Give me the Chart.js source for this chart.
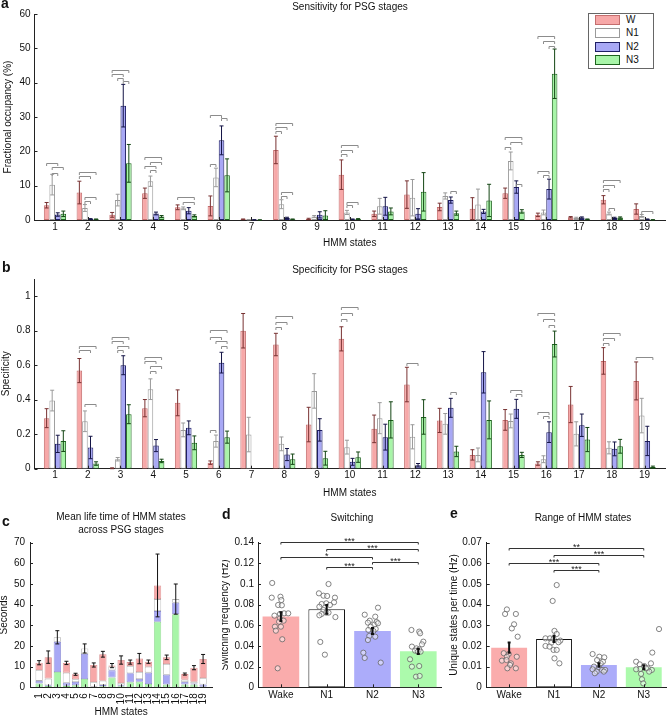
<!DOCTYPE html>
<html>
<head>
<meta charset="utf-8">
<title>HMM states vs PSG stages</title>
<script src="https://cdn.jsdelivr.net/npm/chart.js@4.4.1/dist/chart.umd.min.js"></script>
<style>
  body { margin: 0; background: #fff; }
  #fig { position: relative; width: 671px; height: 716px; overflow: hidden; font-family: "Liberation Sans", Arial, sans-serif; color: #111; }
  #fig canvas { position: absolute; }
  .t { position: absolute; font-size: 10px; line-height: 12px; white-space: nowrap; transform: translate(-50%, -50%); }
  .lt { position: absolute; font-size: 14px; font-weight: bold; line-height: 14px; }
  #legend { position: absolute; left: 588px; top: 13px; width: 64px; height: 54px; border: 1px solid #666; background: #fff; }
  .sw { position: absolute; left: 6px; width: 23px; height: 8px; border: 1px solid; }
  .lg { position: absolute; left: 37px; font-size: 10px; line-height: 12px; }
</style>
</head>
<body>
<div id="fig">
  <canvas id="ca" width="671" height="250" style="left:0;top:0"></canvas>
  <canvas id="cb" width="671" height="250" style="left:0;top:250px"></canvas>
  <canvas id="cc" width="222" height="220" style="left:0;top:500px"></canvas>
  <canvas id="cd" width="224" height="220" style="left:222px;top:500px"></canvas>
  <canvas id="ce" width="225" height="220" style="left:446px;top:500px"></canvas>

  <div class="lt" style="left:1px;top:-4px">a</div>
  <div class="lt" style="left:2px;top:260px">b</div>
  <div class="lt" style="left:2px;top:514px">c</div>
  <div class="lt" style="left:222px;top:507px">d</div>
  <div class="lt" style="left:450px;top:506px">e</div>

  <div class="t" style="left:350px;top:7px">Sensitivity for PSG stages</div>
  <div class="t" style="left:350px;top:270px">Specificity for PSG stages</div>
  <div class="t" style="left:121px;top:517px">Mean life time of HMM states</div>
  <div class="t" style="left:121px;top:530px">across PSG stages</div>
  <div class="t" style="left:352px;top:518px">Switching</div>
  <div class="t" style="left:583px;top:518px">Range of HMM states</div>

  <div id="legend"></div>
</div>

<script>
// ---- data ----
const states = [1, 2, 3, 4, 5, 6, 7, 8, 9, 10, 11, 12, 13, 14, 15, 16, 17, 18, 19];
const stageNames = ['W', 'N1', 'N2', 'N3'];
const stageLabels = ['Wake', 'N1', 'N2', 'N3'];

// a: sensitivity (fractional occupancy, %)
const sensW  = [4.3, 8.0, 1.5, 7.8, 3.7, 4.1, 0.2, 20.4, 0.3, 13.2, 1.8, 7.4, 3.8, 3.3, 7.8, 1.5, 0.8, 5.9, 3.2];
const sensN1 = [10.3, 3.5, 5.8, 11.3, 3.4, 12.4, 0.1, 4.6, 1.0, 2.2, 4.0, 6.5, 7.0, 4.5, 17.2, 2.2, 0.6, 1.9, 1.2];
const sensN2 = [1.6, 0.3, 33.3, 1.9, 2.7, 23.2, 0.05, 0.6, 1.5, 0.2, 4.0, 1.8, 5.8, 2.5, 9.6, 9.0, 0.7, 0.6, 0.2];
const sensN3 = [1.8, 0.2, 16.5, 1.0, 1.2, 13.0, 0.02, 0.2, 1.3, 0.3, 2.5, 8.2, 2.0, 5.7, 2.5, 42.6, 0.2, 0.7, 0.05];
const sensErrW  = [0.8, 3.3, 0.7, 1.5, 0.7, 2.9, 0.1, 4.0, 0.2, 4.3, 0.8, 4.0, 1.1, 3.2, 1.5, 0.5, 0.2, 1.2, 1.5];
const sensErrN1 = [3.0, 1.0, 1.7, 1.5, 0.4, 2.7, 0.05, 1.3, 0.3, 0.6, 2.3, 5.3, 0.9, 4.5, 2.6, 0.7, 0.2, 0.4, 0.4];
const sensErrN2 = [0.5, 0.1, 6.2, 0.4, 0.9, 4.2, 0.03, 0.2, 0.9, 0.1, 2.6, 1.5, 0.9, 0.6, 1.8, 2.9, 0.2, 0.2, 0.1];
const sensErrN3 = [0.8, 0.1, 5.5, 0.3, 0.3, 4.8, 0.02, 0.1, 1.4, 0.1, 1.0, 5.6, 0.6, 4.7, 0.5, 7.2, 0.1, 0.2, 0.05];
const sensTicks = [0, 10, 20, 30, 40, 50, 60];
// significance brackets: [state, stage i, stage j, height]
const sensBrackets = [
  [1, 0, 2, 16.7], [1, 1, 3, 15.5], [1, 1, 2, 13.8],
  [2, 0, 3, 14.0], [2, 0, 2, 12.9], [2, 1, 3, 6.8], [2, 1, 2, 5.5],
  [3, 0, 3, 43.8], [3, 0, 2, 42.5], [3, 1, 2, 41.3], [3, 2, 3, 40.4],
  [4, 0, 3, 18.3], [4, 1, 3, 16.8], [4, 0, 2, 15.7], [4, 1, 2, 14.6],
  [5, 0, 3, 6.6], [5, 1, 3, 5.3],
  [6, 0, 2, 30.6], [6, 2, 3, 29.6], [6, 0, 1, 16.2],
  [8, 0, 3, 28.3], [8, 0, 2, 27.0], [8, 0, 1, 25.8], [8, 1, 3, 8.2], [8, 1, 2, 7.0],
  [10, 0, 3, 21.7], [10, 0, 2, 20.3], [10, 0, 1, 19.1], [10, 1, 3, 5.3], [10, 1, 2, 4.3],
  [13, 2, 3, 8.5],
  [15, 0, 3, 24.2], [15, 1, 3, 22.7], [15, 0, 1, 21.4], [15, 2, 3, 10.6],
  [16, 0, 3, 53.6], [16, 1, 3, 52.2], [16, 2, 3, 50.7], [16, 0, 2, 14.3], [16, 1, 2, 13.0],
  [18, 0, 3, 11.6], [18, 0, 2, 10.3], [18, 0, 1, 9.0], [18, 1, 2, 3.4],
  [19, 1, 3, 2.7]
];

// b: specificity
const specW  = [0.293, 0.569, 0.0, 0.351, 0.382, 0.035, 0.80, 0.72, 0.256, 0.753, 0.231, 0.488, 0.28, 0.08, 0.283, 0.03, 0.372, 0.625, 0.509];
const specN1 = [0.395, 0.275, 0.055, 0.461, 0.225, 0.16, 0.198, 0.144, 0.451, 0.125, 0.293, 0.185, 0.26, 0.08, 0.277, 0.055, 0.202, 0.121, 0.308];
const specN2 = [0.144, 0.123, 0.6, 0.134, 0.237, 0.615, 0.0, 0.082, 0.225, 0.04, 0.183, 0.02, 0.353, 0.559, 0.347, 0.212, 0.252, 0.115, 0.161];
const specN3 = [0.16, 0.03, 0.316, 0.045, 0.15, 0.183, 0.0, 0.055, 0.061, 0.067, 0.283, 0.3, 0.1, 0.283, 0.08, 0.723, 0.169, 0.13, 0.01];
const specErrW  = [0.055, 0.07, 0.005, 0.05, 0.075, 0.01, 0.1, 0.065, 0.1, 0.07, 0.08, 0.1, 0.07, 0.03, 0.06, 0.01, 0.105, 0.077, 0.11];
const specErrN1 = [0.06, 0.06, 0.01, 0.06, 0.04, 0.035, 0.1, 0.04, 0.1, 0.04, 0.09, 0.07, 0.06, 0.04, 0.04, 0.02, 0.07, 0.035, 0.1];
const specErrN2 = [0.05, 0.065, 0.055, 0.035, 0.04, 0.06, 0.0, 0.035, 0.065, 0.02, 0.075, 0.01, 0.055, 0.12, 0.055, 0.06, 0.065, 0.04, 0.085];
const specErrN3 = [0.06, 0.01, 0.055, 0.01, 0.04, 0.035, 0.0, 0.03, 0.04, 0.03, 0.105, 0.1, 0.03, 0.11, 0.015, 0.075, 0.07, 0.04, 0.005];
const specTicks = [0, 0.2, 0.4, 0.6, 0.8, 1];
const specBrackets = [
  [2, 0, 3, 0.714], [2, 0, 2, 0.691], [2, 1, 3, 0.376],
  [3, 0, 3, 0.766], [3, 0, 2, 0.743], [3, 1, 3, 0.714], [3, 1, 2, 0.691],
  [4, 0, 3, 0.646], [4, 0, 2, 0.623], [4, 1, 3, 0.598], [4, 1, 2, 0.569],
  [6, 0, 3, 0.807], [6, 0, 2, 0.766], [6, 1, 3, 0.739], [6, 2, 3, 0.71], [6, 0, 1, 0.227],
  [8, 0, 3, 0.888], [8, 0, 2, 0.849], [8, 0, 1, 0.82],
  [10, 0, 3, 0.936], [10, 0, 2, 0.901], [10, 0, 1, 0.869],
  [12, 0, 2, 0.612],
  [13, 2, 3, 0.443],
  [15, 1, 3, 0.459], [15, 2, 3, 0.434],
  [16, 0, 3, 0.903], [16, 1, 3, 0.869], [16, 2, 3, 0.836], [16, 0, 2, 0.327], [16, 1, 2, 0.304],
  [18, 0, 3, 0.785], [18, 0, 2, 0.756], [18, 0, 1, 0.727],
  [19, 0, 3, 0.65]
];

// c: mean life time (s), stacked contribution of each stage
const lifeN3 = [1.9, 0.6, 7.4, 0.8, 1.0, 4.0, 0.2, 0.5, 4.7, 0.5, 2.4, 2.7, 1.6, 31.7, 1.3, 35.4, 1.3, 1.3, 0.3];
const lifeN2 = [1.2, 0.4, 14.6, 1.4, 1.6, 12.1, 0.1, 0.6, 3.5, 0.5, 4.4, 1.3, 5.5, 5.2, 4.8, 5.5, 1.3, 0.5, 1.0];
const lifeN1 = [5.3, 3.2, 2.2, 4.9, 1.3, 2.7, 2.3, 2.1, 1.8, 1.1, 3.5, 3.4, 2.9, 5.8, 5.2, 1.8, 1.1, 0.9, 3.2];
const lifeW  = [3.5, 10.4, 0.0, 4.7, 2.4, 0.0, 8.2, 12.8, 0.5, 11.1, 1.9, 6.5, 2.4, 6.6, 3.2, 0.0, 2.7, 6.8, 9.2];
const lifeErr = [1.0, 3.0, 3.2, 0.8, 0.5, 2.2, 1.0, 1.4, 1.0, 2.0, 1.0, 2.5, 0.8, 15.2, 1.1, 7.3, 0.5, 1.0, 2.2];
const lifeTicks = [0, 10, 20, 30, 40, 50, 60, 70];

// d: switching frequency (Hz)
const switchMean = [0.0685, 0.0755, 0.0545, 0.0348];
const switchErr = [0.0042, 0.0042, 0.003, 0.0025];
const switchTicks = [0, 0.02, 0.04, 0.06, 0.08, 0.1, 0.12, 0.14];
// subjects: [jitter, value]
const switchWake = [[-0.19, 0.101], [-0.2, 0.0868], [-0.01, 0.0877], [0.01, 0.0845], [-0.06, 0.0797], [0.02, 0.0794], [0.07, 0.0716], [0.16, 0.0716], [-0.02, 0.071], [-0.14, 0.0694], [-0.02, 0.0668], [0.06, 0.0645], [-0.04, 0.0635], [-0.13, 0.0587], [0, 0.0587], [-0.11, 0.0548], [0.03, 0.0465], [-0.07, 0.0184]];
const switchN1 = [[0.04, 0.1], [-0.17, 0.091], [-0.07, 0.0887], [0.01, 0.0884], [0.18, 0.0868], [0.16, 0.0823], [-0.01, 0.0813], [-0.11, 0.0806], [0.07, 0.0797], [-0.16, 0.078], [-0.07, 0.0748], [-0.01, 0.0723], [0.04, 0.0723], [-0.11, 0.071], [-0.16, 0.0697], [0.19, 0.068], [-0.14, 0.0439], [-0.04, 0.0316]];
const switchN2 = [[-0.17, 0.0703], [0.12, 0.0771], [0.06, 0.0684], [-0.06, 0.0645], [0.09, 0.0632], [-0.1, 0.0626], [0.04, 0.0606], [0.12, 0.062], [-0.04, 0.0587], [-0.09, 0.0555], [0.07, 0.0565], [0.02, 0.0545], [-0.07, 0.0497], [0.06, 0.049], [-0.1, 0.0458], [-0.2, 0.0335], [-0.17, 0.0284], [0.18, 0.0239]];
const switchN3 = [[-0.15, 0.0555], [0.02, 0.0539], [0.04, 0.0523], [0.11, 0.0442], [0.08, 0.0416], [-0.14, 0.0394], [-0.04, 0.0377], [0.02, 0.0368], [-0.07, 0.0355], [-0.01, 0.0345], [0.05, 0.0345], [-0.18, 0.0271], [0.02, 0.0206], [-0.14, 0.02], [-0.05, 0.0103], [0.03, 0.011]];
// comparisons: [stage i, stage j, height, label]
const switchSig = [[0, 3, 0.141, '***'], [1, 3, 0.1339, '***'], [0, 2, 0.1265, '*'], [2, 3, 0.1216, '***'], [1, 2, 0.116, '***']];

// e: unique states per time (Hz)
const rangeMean = [0.0192, 0.0234, 0.0108, 0.0097];
const rangeErr = [0.0025, 0.0015, 0.0008, 0.001];
const rangeTicks = [0, 0.01, 0.02, 0.03, 0.04, 0.05, 0.06, 0.07];
const rangeWake = [[-0.05, 0.0377], [-0.09, 0.0355], [0.15, 0.0355], [0.11, 0.0305], [0.06, 0.0285], [0.19, 0.0245], [-0.12, 0.0165], [-0.01, 0.0161], [-0.05, 0.0148], [0.17, 0.0148], [-0.16, 0.0129], [-0.06, 0.0132], [0.04, 0.0116], [0.02, 0.0108], [-0.04, 0.0092], [0.15, 0.0092]];
const rangeN1 = [[0.06, 0.0495], [-0.03, 0.0418], [0.01, 0.0273], [0.06, 0.0258], [-0.19, 0.0237], [-0.09, 0.0237], [-0.01, 0.0234], [0.14, 0.0226], [0.1, 0.0218], [-0.06, 0.0216], [-0.19, 0.02], [-0.1, 0.0197], [-0.01, 0.0181], [0.06, 0.0181], [0.01, 0.014], [0.12, 0.0116]];
const rangeN2 = [[-0.14, 0.0161], [0.01, 0.0148], [0.12, 0.0145], [-0.04, 0.0132], [0.09, 0.0124], [0.04, 0.0116], [-0.11, 0.01], [0, 0.0097], [-0.14, 0.0087], [0.07, 0.0084], [0.14, 0.0084], [-0.05, 0.0076], [0.11, 0.0076], [-0.09, 0.0068]];
const rangeN3 = [[0.34, 0.0282], [0.19, 0.0168], [-0.17, 0.0124], [-0.09, 0.0111], [0.16, 0.0116], [0.01, 0.0103], [0.09, 0.0092], [-0.08, 0.0089], [-0.17, 0.0087], [0.18, 0.0084], [0.12, 0.0076], [-0.06, 0.0065], [0.05, 0.0092], [-0.04, 0.0039], [-0.01, 0.0019]];
const rangeSig = [[0, 3, 0.0676, '**'], [1, 3, 0.0639, '***'], [0, 2, 0.06, '***'], [1, 2, 0.0566, '***']];

// ---- styling ----
const fills = ['rgb(247,168,168)', '#ffffff', 'rgb(168,168,245)', 'rgb(168,245,168)'];
const edges = ['rgb(196,110,110)', '#9a9a9a', 'rgb(30,30,100)', 'rgb(30,100,30)'];
const errCols = ['rgb(120,50,50)', '#9a9a9a', 'rgb(20,20,70)', 'rgb(20,70,20)'];
const softFills = ['rgb(250,172,172)', '#ffffff', 'rgb(172,172,250)', 'rgb(172,250,172)'];
const FONT = '"Liberation Sans", Arial, sans-serif';

Chart.defaults.font.family = FONT;
Chart.defaults.font.size = 10;
Chart.defaults.color = '#111';
Chart.defaults.animation = false;
Chart.defaults.plugins.legend.display = false;
Chart.defaults.plugins.tooltip.enabled = false;

// legend of panel a
const legend = document.getElementById('legend');
stageNames.forEach((n, i) => {
  const top = 1 + i * 13.3;
  legend.innerHTML += `<div class="sw" style="top:${top}px;background:${fills[i]};border-color:${edges[i]}"></div>` +
    `<div class="lg" style="top:${top - 1}px">${n}</div>`;
});

const yLabel = v => String(+Number(v).toFixed(3));

// error bars for any dataset that carries an errors array
const errorBars = {
  id: 'errorBars',
  afterDatasetsDraw(chart) {
    const ctx = chart.ctx, y = chart.scales.y;
    chart.data.datasets.forEach((ds, di) => {
      if (!ds.errors) return;
      const meta = chart.getDatasetMeta(di);
      meta.data.forEach((el, k) => {
        const e = ds.errors[k];
        if (!e) return;
        const v = y.getValueForPixel(el.y);
        const top = y.getPixelForValue(v + e);
        const bot = y.getPixelForValue(Math.max(v - e, 0));
        const c = ds.capWidth || 2;
        ctx.save();
        ctx.strokeStyle = ds.errorColor || '#111';
        ctx.lineWidth = ds.errorWidth || 1;
        ctx.beginPath();
        ctx.moveTo(el.x, top); ctx.lineTo(el.x, bot);
        ctx.moveTo(el.x - c, top); ctx.lineTo(el.x + c, top);
        ctx.moveTo(el.x - c, bot); ctx.lineTo(el.x + c, bot);
        ctx.stroke();
        ctx.restore();
      });
    });
  }
};

// small inward tick marks, as in the original figure
const inTicks = {
  id: 'inTicks',
  afterDraw(chart) {
    const {ctx, chartArea: a} = chart;
    const x = chart.scales.x, y = chart.scales.y;
    ctx.save();
    ctx.strokeStyle = '#222';
    ctx.lineWidth = 1;
    ctx.beginPath();
    x.ticks.forEach(t => {
      const px = Math.round(x.getPixelForValue(t.value)) + 0.5;
      ctx.moveTo(px, a.bottom); ctx.lineTo(px, a.bottom - 3);
    });
    y.ticks.forEach(t => {
      const py = Math.round(y.getPixelForValue(t.value)) + 0.5;
      ctx.moveTo(a.left, py); ctx.lineTo(a.left + 3, py);
    });
    ctx.stroke();
    ctx.restore();
  }
};

function bracketPlugin(list) {
  return {
    id: 'brackets',
    afterDatasetsDraw(chart) {
      const ctx = chart.ctx, y = chart.scales.y;
      ctx.save();
      ctx.strokeStyle = '#8c8c8c';
      ctx.lineWidth = 1;
      list.forEach(([s, i, j, v]) => {
        const k = states.indexOf(s);
        const x1 = chart.getDatasetMeta(i).data[k].x;
        const x2 = chart.getDatasetMeta(j).data[k].x;
        const py = Math.round(y.getPixelForValue(v)) + 0.5;
        ctx.beginPath();
        ctx.moveTo(x1, py + 2.5); ctx.lineTo(x1, py); ctx.lineTo(x2, py); ctx.lineTo(x2, py + 2.5);
        ctx.stroke();
      });
      ctx.restore();
    }
  };
}

function sigPlugin(list) {
  return {
    id: 'sig',
    afterDatasetsDraw(chart) {
      const ctx = chart.ctx, x = chart.scales.x, y = chart.scales.y;
      ctx.save();
      ctx.strokeStyle = '#333';
      ctx.fillStyle = '#222';
      ctx.lineWidth = 1;
      ctx.font = '9px ' + FONT;
      ctx.textAlign = 'center';
      ctx.textBaseline = 'alphabetic';
      list.forEach(([i, j, v, lab]) => {
        const x1 = x.getPixelForValue(i), x2 = x.getPixelForValue(j);
        const py = Math.round(y.getPixelForValue(v)) + 0.5;
        ctx.beginPath();
        ctx.moveTo(x1, py + 2); ctx.lineTo(x1, py); ctx.lineTo(x2, py); ctx.lineTo(x2, py + 2);
        ctx.stroke();
        ctx.fillText(lab, (x1 + x2) / 2, py + 1.5);
      });
      ctx.restore();
    }
  };
}

function axisBase() {
  return { grid: { display: false, drawTicks: false }, border: { color: '#222', width: 1 } };
}

// ---- a and b: grouped bars per HMM state ----
function groupedChart(id, vals, errs, yTicks, yMax, yTitle, area, brackets) {
  const datasets = vals.map((v, d) => ({
    label: stageNames[d],
    data: states.map((s, i) => ({ x: s, y: v[i] })),
    backgroundColor: fills[d],
    borderColor: edges[d],
    borderWidth: 1,
    borderSkipped: false,
    categoryPercentage: 0.68,
    barPercentage: 1,
    errors: errs[d],
    errorColor: errCols[d],
    capWidth: 2
  }));
  return new Chart(document.getElementById(id), {
    type: 'bar',
    data: { datasets },
    plugins: [errorBars, bracketPlugin(brackets), inTicks],
    options: {
      responsive: false,
      devicePixelRatio: 1,
      layout: { padding: { top: area.top, right: area.right, left: 0, bottom: 0 } },
      scales: {
        x: Object.assign(axisBase(), {
          type: 'linear', min: 0.375, max: 19.625, offset: false,
          afterFit: s => { s.height = area.xh; },
          afterBuildTicks: s => { s.ticks = states.map(v => ({ value: v })); },
          ticks: { padding: 1, autoSkip: false, maxRotation: 0, callback: v => String(v) },
          title: { display: true, text: 'HMM states', padding: { top: 0, bottom: 1 } }
        }),
        y: Object.assign(axisBase(), {
          min: 0, max: yMax,
          afterFit: s => { s.width = 34.5; },
          afterBuildTicks: s => { s.ticks = yTicks.map(v => ({ value: v })); },
          ticks: { padding: 4, callback: yLabel },
          title: { display: true, text: yTitle, padding: { top: area.tp, bottom: 0 } }
        })
      }
    }
  });
}

groupedChart('ca', [sensW, sensN1, sensN2, sensN3], [sensErrW, sensErrN1, sensErrN2, sensErrN3],
  sensTicks, 60, 'Fractional occupancy (%)', { top: 14, right: 6, xh: 30, tp: 2.3 }, sensBrackets);

groupedChart('cb', [specW, specN1, specN2, specN3], [specErrW, specErrN1, specErrN2, specErrN3],
  specTicks, 1.1, 'Specificity', { top: 29, right: 6, xh: 31.3, tp: 0 }, specBrackets);

// ---- c: stacked mean life time ----
const lifeSets = [lifeN3, lifeN2, lifeN1, lifeW];
const lifeFill = [fills[3], fills[2], fills[1], fills[0]];
const lifeEdge = ['rgb(140,210,140)', 'rgb(140,140,210)', '#b0b0b0', 'rgb(215,140,140)'];
new Chart(document.getElementById('cc'), {
  type: 'bar',
  data: {
    datasets: lifeSets.map((v, d) => ({
      data: states.map((s, i) => ({ x: s, y: v[i] })),
      backgroundColor: lifeFill[d],
      borderColor: lifeEdge[d],
      borderWidth: 0.8,
      borderSkipped: false,
      categoryPercentage: 0.8,
      barPercentage: 1,
      errors: d === 3 ? lifeErr : null,
      errorColor: '#111',
      capWidth: 2
    }))
  },
  plugins: [errorBars, inTicks],
  options: {
    responsive: false,
    devicePixelRatio: 1,
    layout: { padding: { top: 42.7, right: 9.8, left: 0, bottom: 0 } },
    scales: {
      x: Object.assign(axisBase(), {
        type: 'linear', min: 0, max: 20, offset: false, stacked: true,
        afterFit: s => { s.height = 32.7; },
        afterBuildTicks: s => { s.ticks = states.map(v => ({ value: v })); },
        ticks: { padding: 6, autoSkip: false, minRotation: 90, maxRotation: 90, callback: v => String(v) },
        title: { display: true, text: 'HMM states', padding: { top: 0, bottom: 2 } }
      }),
      y: Object.assign(axisBase(), {
        min: 0, max: 70, stacked: true,
        afterFit: s => { s.width = 30; },
        afterBuildTicks: s => { s.ticks = lifeTicks.map(v => ({ value: v })); },
        ticks: { padding: 5, callback: yLabel },
        title: { display: true, text: 'Seconds', padding: { top: -1.5, bottom: 0 } }
      })
    }
  }
});

// ---- d and e: stage bars with subject points ----
function stageChart(id, means, errs, groups, yTicks, yMax, yTitle, area, sig) {
  const points = groups.flatMap((g, gi) => g.map(([j, v]) => ({ x: gi + j, y: v })));
  return new Chart(document.getElementById(id), {
    type: 'bar',
    data: {
      datasets: [
        {
          type: 'scatter',
          order: 0,
          data: points,
          pointRadius: 2.6,
          pointBorderWidth: 0.8,
          pointBorderColor: '#666',
          pointBackgroundColor: 'rgba(255,255,255,0.45)'
        },
        {
          order: 1,
          data: means.map((v, i) => ({ x: i, y: v })),
          backgroundColor: softFills,
          borderColor: ['rgba(0,0,0,0)', '#111', 'rgba(0,0,0,0)', 'rgba(0,0,0,0)'],
          borderWidth: [0, 1, 0, 0],
          borderSkipped: false,
          categoryPercentage: 0.8,
          barPercentage: 1,
          errors: errs,
          errorColor: '#111',
          errorWidth: 2,
          capWidth: 1.5
        }
      ]
    },
    plugins: [errorBars, sigPlugin(sig), inTicks],
    options: {
      responsive: false,
      devicePixelRatio: 1,
      layout: { padding: { top: 42.7, right: area.right, left: 0, bottom: 0 } },
      scales: {
        x: Object.assign(axisBase(), {
          type: 'linear', min: -0.5, max: 3.5, offset: false,
          afterFit: s => { s.height = 32.7; },
          afterBuildTicks: s => { s.ticks = stageLabels.map((n, i) => ({ value: i })); },
          ticks: { padding: 2, autoSkip: false, maxRotation: 0, callback: v => stageLabels[v] }
        }),
        y: Object.assign(axisBase(), {
          min: 0, max: yMax,
          afterFit: s => { s.width = area.left; },
          afterBuildTicks: s => { s.ticks = yTicks.map(v => ({ value: v })); },
          ticks: { padding: area.tpad, callback: yLabel },
          title: { display: true, text: yTitle, padding: { top: area.tp, bottom: 0 } }
        })
      }
    }
  });
}

stageChart('cd', switchMean, switchErr, [switchWake, switchN1, switchN2, switchN3],
  switchTicks, 0.14, 'Switching frequency (Hz)', { left: 36, right: 4, tpad: 4, tp: -2.7 }, switchSig);

stageChart('ce', rangeMean, rangeErr, [rangeWake, rangeN1, rangeN2, rangeN3],
  rangeTicks, 0.07, 'Unique states per time (Hz)', { left: 40.7, right: 0.2, tpad: 5, tp: 2 }, rangeSig);
</script>
</body>
</html>
